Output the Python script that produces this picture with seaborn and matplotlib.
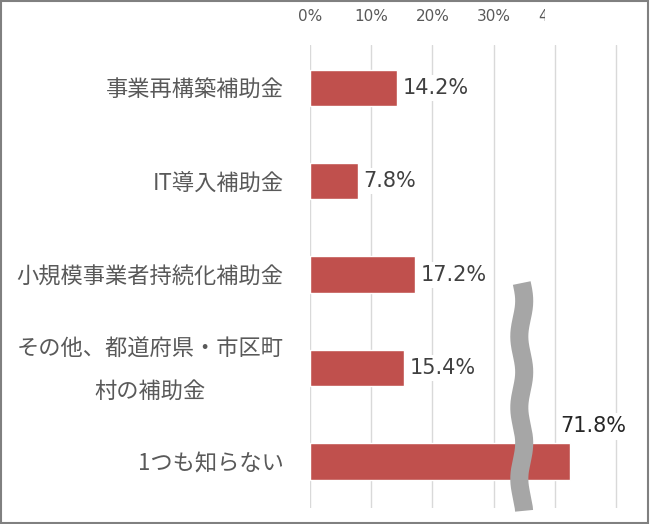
import numpy as np
import pandas as pd
import matplotlib
matplotlib.use("Agg")
import matplotlib.pyplot as plt
from matplotlib.patches import Rectangle
from matplotlib.transforms import ScaledTranslation
import seaborn as sns

# Data
categories = ["事業再構築補助金", "IT導入補助金", "小規模事業者持続化補助金",
              "その他、都道府県・市区町\n村の補助金", "1つも知らない"]
values = [14.2, 7.8, 17.2, 15.4, 71.8]
tick_values = [0, 10, 20, 30, 40, 50]
tick_labels = ["0%", "10%", "20%", "30%", "40%", ""]

# axis break: values past the wave are shortened by BREAK_SKIP
BREAK_AT = 34.6
BREAK_SKIP = 29.3
display = [v - BREAK_SKIP if v > BREAK_AT else v for v in values]

df = pd.DataFrame({"category": categories, "value": display})

sns.set_theme(style="white")
plt.rcParams["font.family"] = ["DejaVu Sans"]
cjk = ["Noto Sans CJK JP", "DejaVu Sans"]

fig = plt.figure(figsize=(6.5, 5.24), dpi=100)
ax = fig.add_axes([310 / 650, 1 - 508 / 524, (52 * 6.12) / 650, (508 - 45) / 524])

sns.barplot(data=df, x="value", y="category", orient="h", color="#C0504D",
            saturation=1, width=0.39, ax=ax)

ax.set_xlim(0, 52)
ax.set_ylim(4.5, -0.46)
ax.set_xticks(tick_values)
ax.set_xticklabels(tick_labels)
ax.xaxis.tick_top()
ax.tick_params(axis="x", length=0, pad=15, labelsize=11, labelcolor="#595959")
ax.tick_params(axis="y", length=0, pad=19, labelsize=16, labelcolor="#595959")
ax.set_xlabel("")
ax.set_ylabel("")
for s in ax.spines.values():
    s.set_visible(False)
ax.grid(axis="x", color="#d9d9d9", linewidth=1)
ax.set_axisbelow(True)

for lab in ax.get_yticklabels():
    lab.set_fontfamily(cjk)
    if "\n" in lab.get_text():
        lab.set_multialignment("center")
        lab.set_linespacing(2.05)
        lab.set_transform(lab.get_transform() +
                          ScaledTranslation(0, 7 / 72, fig.dpi_scale_trans))

# clip the "40%" label behind the break like the original
clip = Rectangle((0, 0), 545 / 650, 1, transform=fig.transFigure, visible=False)
fig.add_artist(clip)
for lab in ax.get_xticklabels():
    if lab.get_text() == "40%":
        lab.set_clip_path(clip)
        lab.set_clip_on(True)

# data labels
box = dict(boxstyle="square,pad=0.15", fc="white", ec="none")
for i, (v, d) in enumerate(zip(values, display)):
    if v > BREAK_AT:
        ax.annotate(f"{v:.1f}%", xy=(d, i - 0.195), xytext=(17, 12),
                    textcoords="offset points", ha="center", va="center",
                    fontsize=15, color="#262626", bbox=box)
    else:
        ax.annotate(f"{v:.1f}%", xy=(d, i), xytext=(4, 0),
                    textcoords="offset points", ha="left", va="center",
                    fontsize=15, color="#404040", bbox=box)

# wavy break marker
t = np.linspace(0, 1, 200)
wy = 2.09 + t * (4.53 - 2.09)
wx = BREAK_AT + 0.4 * np.sin(2 * np.pi * 3.2 * t)
ax.plot(wx, wy, color="#A6A6A6", linewidth=13, solid_capstyle="butt",
        clip_on=False, zorder=5)

# outer frame
fig.add_artist(Rectangle((0.0015, 0.002), 0.995, 0.996, transform=fig.transFigure,
                         fill=False, ec="#808080", lw=1.5))

fig.savefig("out.png", dpi=100)
